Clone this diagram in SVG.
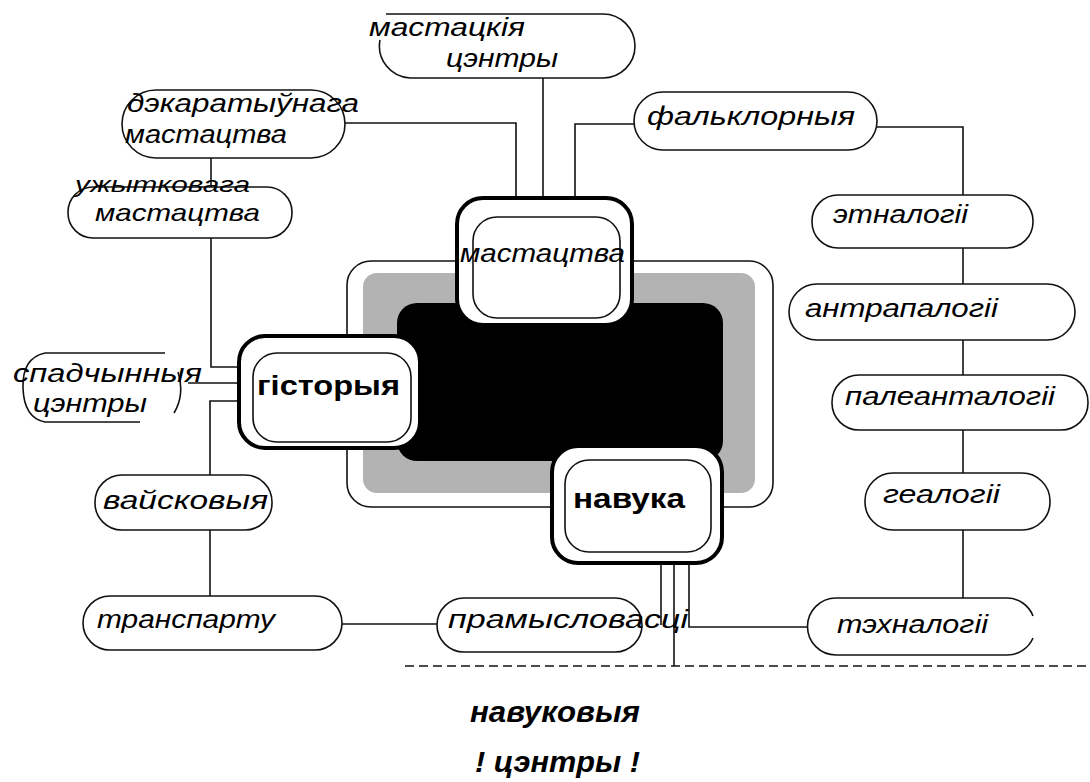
<svg xmlns="http://www.w3.org/2000/svg" width="1090" height="782" viewBox="0 0 1090 782">
<style>
.pill{fill:#fff;stroke:#111;stroke-width:1.6}
.ln{fill:none;stroke:#111;stroke-width:1.6}
.lbl{font-family:"Liberation Sans",Arial,sans-serif;font-style:italic;font-size:26px;fill:#000}
.sm{font-size:22px}
.md{font-size:24px}
.big{font-family:"Liberation Sans",Arial,sans-serif;font-weight:bold;font-size:28px;fill:#000}
.outer{fill:#fff;stroke:#000;stroke-width:4}
.inner{fill:none;stroke:#111;stroke-width:1.6}
.cap{font-family:"Liberation Sans",Arial,sans-serif;font-style:italic;font-weight:bold;font-size:30px;fill:#000}
</style>
<rect width="1090" height="782" fill="#fff"/>
<g id="core">
<rect x="347" y="261" width="426" height="246" rx="24" fill="#fff" stroke="#111" stroke-width="1.6"/>
<rect x="363" y="273" width="392" height="220" rx="14" fill="#b3b3b3"/>
<rect x="397" y="303" width="326" height="158" rx="20" fill="#000"/>
</g>
<g id="connectors">
<path class="ln" d="M543,78 V197"/>
<path class="ln" d="M345,123 H516 V197"/>
<path class="ln" d="M634,124 H575 V197"/>
<path class="ln" d="M877,127 H963 V195"/>
<path class="ln" d="M963,248 V284"/>
<path class="ln" d="M963,340 V375"/>
<path class="ln" d="M963,430 V473"/>
<path class="ln" d="M963,530 V598"/>
<path class="ln" d="M211,158 V187"/>
<path class="ln" d="M211,238 V367 H238"/>
<path class="ln" d="M188,383 H238"/>
<path class="ln" d="M238,401 H210 V475"/>
<path class="ln" d="M210,530 V596"/>
<path class="ln" d="M342,624 H437"/>
<path class="ln" d="M661,563 V625"/>
<path class="ln" d="M674,563 V666"/>
<path class="ln" d="M689,563 V627 H808"/>
<path d="M405,666 H1090" fill="none" stroke="#111" stroke-width="1.6" stroke-dasharray="9 5"/>
</g>
<g id="n-mastatskiya">
<rect fill="#fff" x="378" y="14" width="257" height="64" rx="32"/>
<path class="ln" d="M386,14 H603 A32,32 0 0 1 603,78 H410 A32,32 0 0 1 380,40"/>
<text class="lbl" x="369" y="36" textLength="156" lengthAdjust="spacingAndGlyphs">мастацкія</text>
<text class="lbl" x="446" y="67" textLength="112" lengthAdjust="spacingAndGlyphs">цэнтры</text>
</g>
<g id="n-dekar">
<rect class="pill" x="122" y="90" width="223" height="68" rx="34"/>
<text class="lbl" x="127" y="112" textLength="232" lengthAdjust="spacingAndGlyphs">дэкаратыўнага</text>
<text class="lbl" x="125" y="143" textLength="162" lengthAdjust="spacingAndGlyphs">мастацтва</text>
</g>
<g id="n-uzhyt">
<rect class="pill" x="68" y="187" width="224" height="51" rx="25"/>
<text class="lbl sm" x="75" y="192" textLength="175" lengthAdjust="spacingAndGlyphs">ужытковага</text>
<text class="lbl md" x="95" y="221" textLength="165" lengthAdjust="spacingAndGlyphs">мастацтва</text>
</g>
<g id="n-falk">
<rect class="pill" x="634" y="92" width="243" height="58" rx="29"/>
<text class="lbl" x="647" y="125" textLength="208" lengthAdjust="spacingAndGlyphs">фальклорныя</text>
</g>
<g id="n-etn">
<rect class="pill" x="812" y="195" width="221" height="53" rx="26"/>
<text class="lbl" x="833" y="223" textLength="135" lengthAdjust="spacingAndGlyphs">этналогіі</text>
</g>
<g id="n-antr">
<rect class="pill" x="789" y="284" width="286" height="56" rx="28"/>
<text class="lbl" x="805" y="317" textLength="193" lengthAdjust="spacingAndGlyphs">антрапалогіі</text>
</g>
<g id="n-pale">
<rect class="pill" x="832" y="375" width="256" height="55" rx="27"/>
<text class="lbl" x="845" y="405" textLength="210" lengthAdjust="spacingAndGlyphs">палеанталогіі</text>
</g>
<g id="n-geal">
<rect class="pill" x="865" y="473" width="185" height="57" rx="28"/>
<text class="lbl" x="883" y="503" textLength="117" lengthAdjust="spacingAndGlyphs">геалогіі</text>
</g>
<g id="n-tekh">
<rect fill="#fff" x="808" y="598" width="227" height="57" rx="28"/>
<path class="ln" d="M836,598 H1007 A28,28 0 0 1 1033,616 M1033,638 A28,28 0 0 1 1007,655 H836 A28.5,28.5 0 0 1 836,598"/>
<text class="lbl" x="837" y="633" textLength="151" lengthAdjust="spacingAndGlyphs">тэхналогіі</text>
</g>
<g id="n-pram">
<rect class="pill" x="437" y="598" width="205" height="54" rx="27"/>
<text class="lbl" x="448" y="628" textLength="240" lengthAdjust="spacingAndGlyphs">прамысловасці</text>
</g>
<g id="n-trans">
<rect class="pill" x="83" y="596" width="259" height="54" rx="27"/>
<text class="lbl" x="97" y="628" textLength="178" lengthAdjust="spacingAndGlyphs">транспарту</text>
</g>
<g id="n-vajsk">
<rect class="pill" x="95" y="475" width="177" height="55" rx="27"/>
<text class="lbl" x="103" y="509" textLength="165" lengthAdjust="spacingAndGlyphs">вайсковыя</text>
</g>
<g id="n-spad">
<path class="ln" d="M45,353 H165 M178,372 Q185,395 174,413 M45,353 Q22,358 23,388 Q24,418 45,422 H140"/>
<text class="lbl" x="13" y="382" textLength="189" lengthAdjust="spacingAndGlyphs">спадчынныя</text>
<text class="lbl" x="33" y="412" textLength="114" lengthAdjust="spacingAndGlyphs">цэнтры</text>
</g>
<g id="n-mastatstva">
<rect class="outer" x="457" y="198" width="175" height="127" rx="26"/>
<rect class="inner" x="473" y="217" width="147" height="101" rx="24"/>
<text class="lbl" x="460" y="262" textLength="165" lengthAdjust="spacingAndGlyphs">мастацтва</text>
</g>
<g id="n-gistoryya">
<rect class="outer" x="239" y="336" width="181" height="112" rx="26"/>
<rect class="inner" x="253" y="353" width="158" height="89" rx="24"/>
<text class="big" x="257" y="395" textLength="143" lengthAdjust="spacingAndGlyphs">гісторыя</text>
</g>
<g id="n-navuka">
<rect class="outer" x="552" y="446" width="170" height="117" rx="26"/>
<rect class="inner" x="565" y="460" width="146" height="92" rx="24"/>
<text class="big" x="573" y="508" textLength="112" lengthAdjust="spacingAndGlyphs">навука</text>
</g>
<g id="caption">
<text class="cap" x="470" y="722" textLength="170" lengthAdjust="spacingAndGlyphs">навуковыя</text>
<text class="cap" x="475" y="772" textLength="165" lengthAdjust="spacingAndGlyphs">! цэнтры !</text>
</g>
</svg>
